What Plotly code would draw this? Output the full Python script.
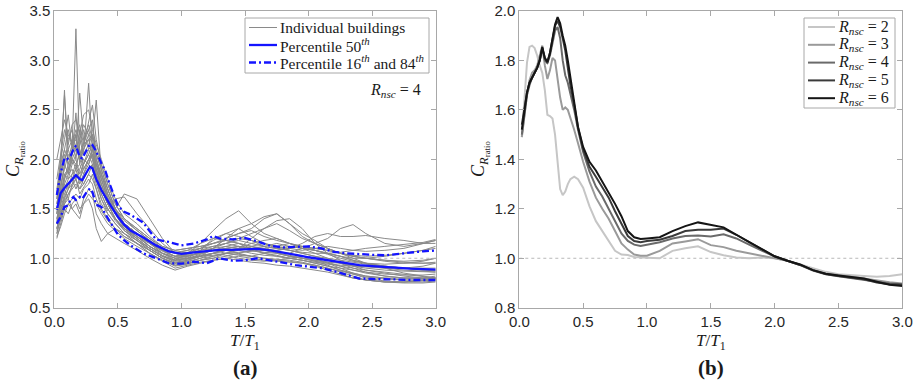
import plotly.graph_objects as go

# ---------------- panel (a): coefficient ratio per building, R_nsc = 4 ----------------
t_ind = [0.02, 0.05, 0.08, 0.11, 0.14, 0.17, 0.20, 0.23, 0.27, 0.30, 0.33, 0.37, 0.42, 0.48,
         0.55, 0.65, 0.75, 0.85, 0.95, 1.05, 1.15, 1.25, 1.35, 1.45, 1.55, 1.65, 1.75, 1.85,
         1.95, 2.05, 2.15, 2.25, 2.35, 2.45, 2.60, 2.75, 2.90, 3.00]

individual_buildings = [
    [1.55, 1.80, 2.05, 1.95, 2.10, 3.32, 2.05, 2.00, 1.95, 2.05, 1.85, 1.70, 1.55, 1.45, 1.30, 1.22, 1.12, 1.05, 1.02, 1.04, 1.08, 1.10, 1.12, 1.10, 1.08, 1.10, 1.06, 1.02, 1.00, 0.98, 0.96, 0.95, 0.93, 0.92, 0.90, 0.88, 0.87, 0.86],
    [1.45, 1.90, 2.70, 1.85, 2.00, 1.90, 2.10, 1.95, 2.05, 1.95, 1.80, 1.65, 1.50, 1.40, 1.28, 1.20, 1.10, 1.02, 0.98, 1.00, 1.04, 1.08, 1.12, 1.15, 1.12, 1.08, 1.05, 1.03, 1.00, 0.97, 0.95, 0.92, 0.90, 0.88, 0.86, 0.84, 0.82, 0.80],
    [1.60, 2.00, 2.65, 2.10, 2.20, 2.00, 2.30, 2.05, 2.77, 2.10, 1.95, 1.75, 1.55, 1.40, 1.30, 1.22, 1.15, 1.08, 1.05, 1.06, 1.10, 1.18, 1.25, 1.30, 1.22, 1.15, 1.10, 1.08, 1.05, 1.02, 1.00, 0.98, 0.96, 0.94, 0.92, 0.90, 0.90, 0.90],
    [1.50, 1.70, 1.95, 2.20, 2.30, 2.10, 2.67, 2.20, 2.30, 2.15, 1.90, 1.75, 1.60, 1.45, 1.35, 1.25, 1.15, 1.05, 1.00, 1.02, 1.06, 1.10, 1.15, 1.20, 1.25, 1.30, 1.35, 1.28, 1.20, 1.15, 1.10, 1.05, 1.02, 1.00, 0.98, 0.97, 0.98, 1.00],
    [1.40, 1.60, 1.85, 1.90, 2.05, 2.25, 2.00, 2.20, 2.35, 2.20, 2.60, 1.85, 1.65, 1.50, 1.35, 1.25, 1.15, 1.05, 1.00, 1.00, 1.02, 1.05, 1.10, 1.12, 1.10, 1.12, 1.15, 1.12, 1.10, 1.08, 1.05, 1.02, 0.98, 0.95, 0.92, 0.90, 0.88, 0.88],
    [1.35, 1.55, 1.80, 1.95, 2.05, 2.47, 1.95, 2.10, 2.25, 2.00, 1.85, 1.70, 1.55, 1.40, 1.28, 1.18, 1.08, 1.00, 0.95, 0.96, 1.00, 1.05, 1.08, 1.10, 1.08, 1.05, 1.03, 1.00, 0.98, 0.95, 0.92, 0.88, 0.85, 0.82, 0.80, 0.78, 0.78, 0.78],
    [1.65, 2.00, 2.20, 2.45, 2.10, 2.25, 2.00, 2.15, 2.30, 2.40, 2.00, 1.80, 1.60, 1.45, 1.35, 1.25, 1.15, 1.10, 1.06, 1.08, 1.10, 1.12, 1.15, 1.12, 1.10, 1.08, 1.07, 1.05, 1.10, 1.15, 1.20, 1.30, 1.34, 1.25, 1.15, 1.12, 1.15, 1.18],
    [1.30, 1.45, 1.60, 1.70, 1.75, 1.85, 1.80, 1.90, 2.00, 2.05, 1.90, 1.75, 1.55, 1.40, 1.30, 1.20, 1.10, 1.02, 0.98, 1.05, 1.15, 1.28, 1.40, 1.48, 1.35, 1.25, 1.20, 1.15, 1.10, 1.08, 1.05, 1.02, 0.98, 0.95, 0.92, 0.90, 0.88, 0.87],
    [1.25, 1.40, 1.55, 1.65, 1.70, 1.75, 1.70, 1.80, 1.90, 1.95, 1.80, 1.65, 1.50, 1.38, 1.28, 1.18, 1.08, 1.00, 0.95, 0.98, 1.02, 1.10, 1.20, 1.25, 1.30, 1.40, 1.45, 1.35, 1.25, 1.18, 1.10, 1.05, 1.00, 0.95, 0.90, 0.85, 0.82, 0.80],
    [1.20, 1.35, 1.50, 1.55, 1.60, 1.65, 1.60, 1.70, 1.75, 1.85, 1.70, 1.55, 1.45, 1.35, 1.25, 1.15, 1.05, 0.98, 0.93, 0.95, 0.98, 1.00, 1.02, 1.05, 1.08, 1.06, 1.05, 1.02, 1.00, 0.97, 0.93, 0.88, 0.84, 0.80, 0.77, 0.76, 0.76, 0.77],
    [1.70, 1.95, 2.10, 2.00, 2.15, 2.20, 2.05, 2.15, 2.20, 2.25, 2.10, 1.95, 1.75, 1.55, 1.40, 1.30, 1.20, 1.12, 1.08, 1.10, 1.12, 1.15, 1.18, 1.20, 1.18, 1.15, 1.12, 1.10, 1.08, 1.10, 1.12, 1.10, 1.08, 1.07, 1.08, 1.10, 1.15, 1.18],
    [1.45, 1.65, 1.85, 1.80, 1.95, 2.00, 1.85, 1.95, 2.10, 2.00, 1.85, 1.70, 1.55, 1.50, 1.65, 1.60, 1.40, 1.20, 1.05, 1.00, 1.02, 1.05, 1.08, 1.05, 1.02, 1.00, 0.98, 0.97, 0.95, 0.92, 0.88, 0.84, 0.80, 0.78, 0.76, 0.75, 0.75, 0.76],
    [1.35, 1.50, 1.65, 1.75, 1.80, 1.90, 1.75, 1.85, 1.95, 1.90, 1.75, 1.60, 1.48, 1.60, 1.62, 1.45, 1.30, 1.15, 1.05, 1.03, 1.05, 1.08, 1.10, 1.08, 1.05, 1.03, 1.02, 1.00, 0.98, 0.95, 0.92, 0.90, 0.88, 0.86, 0.84, 0.83, 0.83, 0.84],
    [1.55, 1.75, 1.90, 2.05, 2.00, 2.10, 2.20, 2.05, 2.15, 2.25, 2.05, 1.90, 1.70, 1.50, 1.35, 1.25, 1.15, 1.08, 1.02, 1.02, 1.05, 1.08, 1.05, 1.03, 1.02, 1.05, 1.08, 1.10, 1.12, 1.10, 1.08, 1.05, 1.03, 1.02, 1.03, 1.05, 1.08, 1.10],
    [1.40, 1.55, 1.70, 1.60, 1.75, 1.80, 1.70, 1.75, 1.85, 1.80, 1.70, 1.50, 1.40, 1.30, 1.22, 1.15, 1.08, 1.00, 0.95, 0.97, 1.00, 1.02, 1.05, 1.08, 1.12, 1.15, 1.12, 1.08, 1.05, 1.02, 0.98, 0.95, 0.92, 0.90, 0.88, 0.87, 0.86, 0.86],
    [1.28, 1.40, 1.50, 1.45, 1.55, 1.60, 1.50, 1.55, 1.65, 1.60, 1.55, 1.45, 1.35, 1.28, 1.20, 1.12, 1.05, 0.97, 0.90, 0.93, 0.96, 0.98, 1.00, 0.98, 0.96, 0.95, 0.93, 0.92, 0.90, 0.88, 0.86, 0.83, 0.80, 0.78, 0.76, 0.76, 0.77, 0.78],
    [1.60, 1.85, 2.00, 2.10, 1.95, 2.05, 2.15, 2.30, 2.10, 2.15, 2.00, 1.85, 1.70, 1.50, 1.40, 1.30, 1.20, 1.10, 1.05, 1.08, 1.15, 1.20, 1.18, 1.15, 1.12, 1.10, 1.12, 1.15, 1.12, 1.08, 1.05, 1.02, 1.00, 1.00, 1.02, 1.05, 1.08, 1.12],
    [1.50, 1.65, 1.75, 1.85, 1.90, 1.80, 1.90, 2.00, 1.95, 2.10, 1.95, 1.80, 1.62, 1.45, 1.32, 1.22, 1.12, 1.03, 0.98, 1.00, 1.03, 1.05, 1.08, 1.10, 1.15, 1.18, 1.20, 1.15, 1.10, 1.05, 1.00, 0.95, 0.90, 0.86, 0.82, 0.80, 0.80, 0.80],
    [1.80, 2.05, 2.30, 2.15, 2.35, 2.40, 2.25, 2.45, 2.50, 2.30, 2.15, 2.00, 1.80, 1.60, 1.45, 1.35, 1.22, 1.12, 1.08, 1.10, 1.12, 1.15, 1.20, 1.25, 1.28, 1.22, 1.18, 1.15, 1.12, 1.10, 1.08, 1.05, 1.02, 1.00, 0.98, 0.96, 0.95, 0.95],
    [1.22, 1.32, 1.45, 1.55, 1.50, 1.55, 1.45, 1.60, 1.70, 1.65, 1.45, 1.35, 1.25, 1.20, 1.15, 1.08, 1.00, 0.93, 0.88, 0.92, 0.95, 0.98, 1.00, 1.02, 1.00, 0.98, 0.97, 0.96, 0.95, 0.93, 0.90, 0.86, 0.82, 0.78, 0.76, 0.76, 0.78, 0.80],
    [1.45, 1.60, 1.80, 1.90, 2.00, 1.95, 2.05, 1.90, 2.00, 2.10, 1.95, 1.80, 1.60, 1.45, 1.32, 1.22, 1.12, 1.05, 1.00, 1.02, 1.05, 1.10, 1.20, 1.30, 1.35, 1.42, 1.45, 1.35, 1.22, 1.15, 1.10, 1.05, 1.02, 1.00, 0.97, 0.95, 0.95, 0.96],
    [1.35, 1.55, 1.70, 1.80, 1.85, 1.95, 1.80, 1.95, 2.05, 2.15, 2.00, 1.85, 1.65, 1.48, 1.35, 1.25, 1.15, 1.07, 1.02, 1.03, 1.05, 1.08, 1.10, 1.12, 1.10, 1.08, 1.08, 1.10, 1.15, 1.22, 1.25, 1.22, 1.22, 1.23, 1.20, 1.18, 1.15, 1.15],
    [1.30, 1.48, 1.62, 1.70, 1.80, 1.70, 1.80, 1.75, 1.85, 1.95, 1.80, 1.60, 1.45, 1.35, 1.25, 1.18, 1.10, 1.02, 0.96, 0.98, 1.02, 1.05, 1.03, 1.00, 0.98, 0.97, 0.98, 1.00, 1.02, 1.00, 0.95, 0.90, 0.85, 0.82, 0.80, 0.80, 0.80, 0.82],
    [1.65, 1.90, 2.10, 2.30, 2.15, 2.25, 2.35, 2.15, 2.40, 2.55, 2.20, 1.95, 1.75, 1.55, 1.40, 1.28, 1.18, 1.08, 1.02, 1.05, 1.10, 1.15, 1.18, 1.15, 1.10, 1.05, 1.02, 1.00, 0.98, 0.96, 0.94, 0.93, 0.92, 0.91, 0.90, 0.90, 0.92, 0.95],
    [1.50, 1.70, 1.95, 1.85, 2.05, 2.15, 2.00, 2.10, 2.20, 2.05, 1.95, 1.85, 1.65, 1.45, 1.35, 1.25, 1.12, 1.05, 0.98, 1.00, 1.08, 1.20, 1.25, 1.22, 1.18, 1.12, 1.05, 1.02, 1.00, 0.98, 0.96, 0.92, 0.88, 0.85, 0.82, 0.80, 0.79, 0.79],
    [1.38, 1.58, 1.75, 1.70, 1.85, 1.90, 1.95, 1.85, 2.00, 2.05, 1.90, 1.70, 1.55, 1.40, 1.30, 1.20, 1.10, 1.02, 0.97, 0.99, 1.02, 1.03, 1.05, 1.06, 1.07, 1.08, 1.10, 1.12, 1.10, 1.08, 1.04, 1.00, 0.97, 0.95, 0.94, 0.95, 0.97, 1.00],
    [2.00, 2.20, 2.40, 2.25, 2.15, 2.30, 2.20, 2.35, 2.25, 2.20, 2.05, 1.90, 1.70, 1.50, 1.38, 1.28, 1.18, 1.10, 1.05, 1.05, 1.08, 1.12, 1.15, 1.18, 1.15, 1.12, 1.10, 1.08, 1.06, 1.05, 1.05, 1.06, 1.08, 1.10, 1.12, 1.14, 1.16, 1.19],
    [1.25, 1.42, 1.58, 1.65, 1.72, 1.80, 1.65, 1.72, 1.80, 1.75, 1.60, 1.48, 1.38, 1.30, 1.22, 1.15, 1.08, 1.00, 0.93, 0.95, 0.98, 1.00, 1.05, 1.10, 1.20, 1.30, 1.38, 1.40, 1.30, 1.15, 1.05, 0.98, 0.92, 0.88, 0.85, 0.82, 0.80, 0.80],
    [1.30, 1.45, 1.55, 1.60, 1.50, 1.45, 1.40, 1.55, 1.60, 1.50, 1.30, 1.17, 1.25, 1.30, 1.25, 1.15, 1.05, 0.98, 0.92, 0.94, 0.98, 1.02, 1.05, 1.04, 1.02, 1.00, 0.99, 0.98, 0.96, 0.93, 0.90, 0.87, 0.84, 0.81, 0.79, 0.78, 0.78, 0.79],
]

t_pct = [0.02, 0.05, 0.08, 0.10, 0.13, 0.15, 0.17, 0.20, 0.22, 0.25, 0.28, 0.30, 0.33, 0.37, 0.40,
         0.43, 0.47, 0.50, 0.55, 0.60, 0.70, 0.80, 0.90, 1.00, 1.10, 1.20, 1.25, 1.30, 1.40, 1.50,
         1.60, 1.70, 1.80, 1.90, 2.00, 2.10, 2.20, 2.30, 2.40, 2.50, 2.60, 2.70, 2.80, 2.90, 3.00]
p50 = [1.49, 1.66, 1.71, 1.74, 1.78, 1.81, 1.84, 1.80, 1.79, 1.86, 1.925, 1.91, 1.80, 1.69, 1.62,
       1.56, 1.48, 1.42, 1.34, 1.28, 1.21, 1.13, 1.07, 1.045, 1.06, 1.075, 1.08, 1.085, 1.085, 1.09,
       1.095, 1.08, 1.06, 1.035, 1.01, 0.99, 0.97, 0.95, 0.93, 0.92, 0.91, 0.905, 0.895, 0.89, 0.885]
p84 = [1.64, 1.86, 2.01, 2.00, 2.04, 2.10, 2.14, 2.02, 2.01, 2.09, 2.155, 2.145, 2.08, 1.96, 1.89,
       1.77, 1.62, 1.53, 1.47, 1.44, 1.36, 1.19, 1.165, 1.13, 1.15, 1.19, 1.225, 1.20, 1.19, 1.205,
       1.17, 1.125, 1.11, 1.115, 1.12, 1.10, 1.065, 1.05, 1.04, 1.035, 1.03, 1.045, 1.06, 1.07, 1.078]
p16 = [1.35, 1.42, 1.52, 1.53, 1.59, 1.62, 1.59, 1.62, 1.60, 1.66, 1.705, 1.67, 1.54, 1.52, 1.45,
       1.39, 1.30, 1.24, 1.18, 1.13, 1.05, 1.00, 0.95, 0.945, 0.965, 0.95, 0.975, 1.00, 0.975, 0.98,
       1.00, 0.98, 0.955, 0.93, 0.915, 0.90, 0.87, 0.83, 0.795, 0.79, 0.79, 0.785, 0.78, 0.78, 0.78]

# ---------------- panel (b): median ratio for each R_nsc ----------------
t_med = [0.02, 0.04, 0.06, 0.08, 0.10, 0.12, 0.14, 0.16, 0.18, 0.20, 0.22, 0.24, 0.26, 0.28,
         0.30, 0.32, 0.34, 0.36, 0.38, 0.40, 0.43, 0.46, 0.50, 0.55, 0.60, 0.65, 0.70, 0.75,
         0.80, 0.85, 0.90, 0.95, 1.00, 1.10, 1.20, 1.30, 1.40, 1.50, 1.60, 1.70, 1.80, 1.90,
         2.00, 2.10, 2.20, 2.30, 2.40, 2.50, 2.60, 2.70, 2.80, 2.90, 3.00]
rnsc_2 = [1.49, 1.64, 1.79, 1.855, 1.86, 1.85, 1.82, 1.78, 1.75, 1.68, 1.58, 1.575, 1.565, 1.50,
          1.38, 1.28, 1.255, 1.27, 1.30, 1.32, 1.33, 1.32, 1.285, 1.21, 1.15, 1.11, 1.07, 1.03,
          1.015, 1.013, 1.005, 1.003, 1.002, 1.00, 1.03, 1.04, 1.048, 1.025, 1.012, 1.003, 1.00, 1.003,
          1.00, 0.99, 0.975, 0.958, 0.945, 0.935, 0.93, 0.928, 0.925, 0.928, 0.935]
rnsc_3 = [1.49, 1.58, 1.66, 1.72, 1.75, 1.76, 1.78, 1.82, 1.86, 1.78, 1.725, 1.76, 1.81, 1.80,
          1.72, 1.65, 1.60, 1.61, 1.60, 1.57, 1.52, 1.465, 1.39, 1.31, 1.245, 1.20, 1.16, 1.11,
          1.06, 1.035, 1.015, 1.01, 1.01, 1.03, 1.06, 1.068, 1.077, 1.053, 1.045, 1.03, 1.02, 1.012,
          1.003, 0.99, 0.973, 0.952, 0.938, 0.93, 0.925, 0.918, 0.91, 0.903, 0.898]
rnsc_4 = [1.50, 1.59, 1.66, 1.70, 1.73, 1.75, 1.77, 1.80, 1.85, 1.80, 1.79, 1.82, 1.87, 1.92,
          1.935, 1.89, 1.80, 1.74, 1.71, 1.67, 1.60, 1.52, 1.43, 1.35, 1.29, 1.25, 1.20, 1.15,
          1.10, 1.07, 1.055, 1.05, 1.055, 1.065, 1.08, 1.09, 1.092, 1.088, 1.097, 1.08, 1.055, 1.03,
          1.007, 0.99, 0.972, 0.95, 0.935, 0.927, 0.92, 0.913, 0.905, 0.898, 0.895]
rnsc_5 = [1.54, 1.61, 1.67, 1.71, 1.73, 1.75, 1.77, 1.80, 1.85, 1.81, 1.79, 1.83, 1.885, 1.94,
          1.96, 1.935, 1.89, 1.84, 1.77, 1.70, 1.62, 1.53, 1.44, 1.37, 1.33, 1.29, 1.245, 1.19,
          1.14, 1.09, 1.07, 1.065, 1.07, 1.075, 1.09, 1.11, 1.115, 1.115, 1.12, 1.095, 1.065, 1.035,
          1.008, 0.99, 0.973, 0.952, 0.936, 0.928, 0.922, 0.915, 0.902, 0.895, 0.893]
rnsc_6 = [1.52, 1.60, 1.67, 1.71, 1.73, 1.75, 1.77, 1.80, 1.855, 1.81, 1.795, 1.83, 1.89, 1.945,
          1.975, 1.95, 1.90, 1.86, 1.80, 1.73, 1.64, 1.53, 1.45, 1.39, 1.355, 1.31, 1.27, 1.22,
          1.17, 1.11, 1.085, 1.078, 1.08, 1.085, 1.11, 1.13, 1.145, 1.135, 1.125, 1.095, 1.065, 1.035,
          1.008, 0.99, 0.975, 0.952, 0.937, 0.93, 0.924, 0.918, 0.905, 0.893, 0.888]
rnsc_levels = ["2", "3", "4", "5", "6"]
rnsc_series = [rnsc_2, rnsc_3, rnsc_4, rnsc_5, rnsc_6]
rnsc_colors = ["#c6c6c6", "#9a9a9a", "#6a6a6a", "#3a3a3a", "#151515"]

SERIF = "Liberation Serif, Times New Roman, serif"
SANS = "Liberation Sans, Arial, sans-serif"
BLUE = "#1414ff"
GRAY = "#8a8a8a"
FRAME = "#a8a8a8"
DASHDOT = "7px,3px,2px,3px"
W, H = 920, 384

def px(xp):
    return xp / W

def py(yp):
    return 1 - yp / H

fig = go.Figure()

for row in individual_buildings:
    fig.add_trace(go.Scatter(x=t_ind, y=row, mode="lines", xaxis="x", yaxis="y",
                             line=dict(color=GRAY, width=1), showlegend=False))

fig.add_trace(go.Scatter(x=t_pct, y=p50, mode="lines", xaxis="x", yaxis="y",
                         line=dict(color=BLUE, width=2.3), showlegend=False))
for band in (p16, p84):
    fig.add_trace(go.Scatter(x=t_pct, y=band, mode="lines", xaxis="x", yaxis="y",
                             line=dict(color=BLUE, width=2.3, dash=DASHDOT), showlegend=False))

for vals, col in zip(rnsc_series, rnsc_colors):
    fig.add_trace(go.Scatter(x=t_med, y=vals, mode="lines", xaxis="x2", yaxis="y2",
                             line=dict(color=col, width=2), showlegend=False))

# y = 1 reference lines
for xr, yr in (("x", "y"), ("x2", "y2")):
    fig.add_shape(type="line", xref=xr, yref=yr, x0=0, x1=3, y0=1, y1=1,
                  line=dict(color="#b8b8b8", width=1, dash="dot"), layer="below")

axis_common = dict(
    showline=True, linecolor=FRAME, linewidth=1, mirror="allticks", automargin=False,
    ticks="inside", ticklen=5, tickcolor=FRAME, showgrid=False, zeroline=False,
    tickfont=dict(family=SANS, size=15, color="#262626"))

y_dom = [py(307.7), py(11)]
fig.update_layout(
    width=W, height=H, margin=dict(l=0, r=0, t=0, b=0, autoexpand=False),
    paper_bgcolor="white", plot_bgcolor="white", showlegend=False,
    xaxis=dict(domain=[px(54.3), px(435.7)], range=[0, 3], dtick=0.5, tick0=0,
               tickformat=".1f", anchor="y", **axis_common),
    yaxis=dict(domain=y_dom, range=[0.5, 3.5], dtick=0.5, tick0=0.5,
               tickformat=".1f", anchor="x", **axis_common),
    xaxis2=dict(domain=[px(519.3), px(902.3)], range=[0, 3], dtick=0.5, tick0=0,
                tickformat=".1f", anchor="y2", **axis_common),
    yaxis2=dict(domain=y_dom, range=[0.8, 2.0], dtick=0.2, tick0=0.8,
                tickformat=".1f", anchor="x2", **axis_common),
)

def note(text, x, y, size, xanchor="center", yanchor="middle", **kw):
    fig.add_annotation(text=text, x=x, y=y, xref="paper", yref="paper", showarrow=False,
                       xanchor=xanchor, yanchor=yanchor,
                       font=dict(family=SERIF, size=size, color="#1a1a1a"), **kw)

def legend_box(x0, y0, x1, y1, entries, line_x0, line_x1, text_x, size):
    fig.add_shape(type="rect", xref="paper", yref="paper",
                  x0=px(x0), x1=px(x1), y0=py(y1), y1=py(y0),
                  line=dict(color=FRAME, width=1), fillcolor="white", layer="above")
    for ypix, label, color, dash, width in entries:
        fig.add_shape(type="line", xref="paper", yref="paper",
                      x0=px(line_x0), x1=px(line_x1), y0=py(ypix), y1=py(ypix),
                      line=dict(color=color, width=width, dash=dash), layer="above")
        note(label, px(text_x), py(ypix), size, xanchor="left")

# legend of panel (a)
legend_box(245, 18, 429, 73, [
    (27.5, "Individual buildings", GRAY, "solid", 1),
    (45, "Percentile 50<sup><i>th</i></sup>", BLUE, "solid", 2.3),
    (62.5, "Percentile 16<sup><i>th</i></sup> and 84<sup><i>th</i></sup>", BLUE, DASHDOT, 2.3),
], 249, 277, 278, 15.5)

# legend of panel (b)
legend_box(804, 18, 895, 108, [
    (27 + 17.8 * i, "<i>R</i><sub><i>nsc</i></sub> = " + lvl, col, "solid", 2)
    for i, (lvl, col) in enumerate(zip(rnsc_levels, rnsc_colors))
], 808, 835, 836, 16)

x_title = "<i>T</i>/<i>T</i><sub>1</sub>"
y_title = "<i>C</i><sub><i>R</i><sub>ratio</sub></sub>"
note(x_title, px(245), py(342), 17)
note(x_title, px(710.8), py(342), 17)
note(y_title, px(15), py(159), 18, textangle=-90)
note(y_title, px(480), py(159), 18, textangle=-90)
note("<b>(a)</b>", px(245), py(368), 21)
note("<b>(b)</b>", px(710.8), py(368), 21)
note("<i>R</i><sub><i>nsc</i></sub> = 4", px(423), py(90), 16, xanchor="right")

fig.write_html("out.html")
